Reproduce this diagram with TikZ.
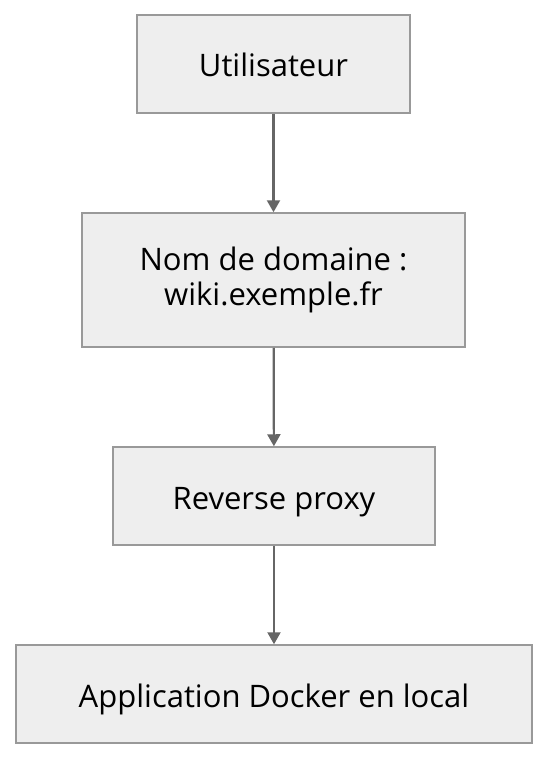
\documentclass[tikz,border=0pt]{standalone}
\usepackage{fontspec}
\setmainfont{Open Sans}
\usetikzlibrary{arrows.meta}
\definecolor{boxfill}{HTML}{EEEEEE}
\definecolor{boxline}{HTML}{999999}
\definecolor{arrowc}{HTML}{666666}
\begin{document}
\begin{tikzpicture}[x=1pt,y=-1pt,
  box/.style={draw=boxline,fill=boxfill,line width=1.5pt,inner sep=0pt,font=\fontsize{31}{35}\selectfont,align=center},
  oneline/.style={box,text height=26pt,text depth=0pt},
  conn/.style={draw=arrowc,line width=2.2pt,-{Triangle[length=12pt,width=13pt]}}]
\useasboundingbox (0,0) rectangle (549,760);
\node[oneline,minimum width=273pt,minimum height=98pt] (u) at (273.5,64) {Utilisateur};
\node[box,minimum width=383pt,minimum height=134pt] (d) at (273.5,280) {Nom de domaine :\\wiki.exemple.fr};
\node[oneline,minimum width=322pt,minimum height=98pt] (r) at (274,496) {Reverse proxy};
\node[oneline,minimum width=516pt,minimum height=98pt] (a) at (274,694) {Application Docker en local};
\draw[conn] (u) -- (d);
\draw[conn] (d) -- (r);
\draw[conn] (r) -- (a);
\end{tikzpicture}
\end{document}
